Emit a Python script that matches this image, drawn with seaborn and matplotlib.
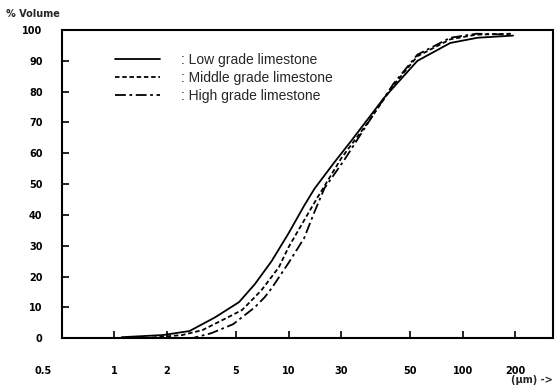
import numpy as np
import pandas as pd
import matplotlib
matplotlib.use("Agg")
import matplotlib.pyplot as plt
import matplotlib.transforms as mtransforms
import seaborn as sns

# --- data (particle size in um, cumulative % volume) ---
low_size = [1.1, 1.9, 2.7, 3.8, 5.2, 6.4, 8.0, 10, 12.3, 14.1, 18.3, 22.9, 35.4, 55, 85, 122, 195]
low_vol = [0.3, 1.0, 2.3, 6.8, 11.7, 17.5, 25, 34, 43, 48.5, 57, 64, 78, 90, 95.8, 97.5, 98.2]

mid_size = [1.5, 2.45, 3.2, 4.5, 5.4, 6.4, 7.0, 8.8, 10, 13, 14.8, 20.1, 28.6, 40, 55, 85, 120, 190]
mid_vol = [0, 1.0, 2.6, 6.8, 9.1, 13.3, 15.6, 23, 29.5, 40.6, 46, 58.4, 70, 82, 91.5, 97, 98.5, 98.8]

high_size = [2.0, 2.8, 3.6, 4.8, 6.4, 7.3, 8.0, 10, 11.4, 12.3, 14.1, 16.1, 20.9, 29.8, 40, 55, 85, 120, 190]
high_vol = [0, 0, 1.6, 4.5, 10, 13.3, 16.2, 24.4, 29.5, 32.5, 41, 48.7, 57.8, 71.4, 82.5, 92, 97.5, 98.8, 98.5]

series_names = [": Low grade limestone", ": Middle grade limestone", ": High grade limestone"]

x_ticks = [0.5, 1, 2, 5, 10, 20, 50, 100, 200]
x_tick_labels = ["0.5", "1", "2", "5", "10", "30", "50", "100", "200"]
y_ticks = [0, 10, 20, 30, 40, 50, 60, 70, 80, 90, 100]

df = pd.concat([
    pd.DataFrame({"size": low_size, "vol": low_vol, "grade": series_names[0]}),
    pd.DataFrame({"size": mid_size, "vol": mid_vol, "grade": series_names[1]}),
    pd.DataFrame({"size": high_size, "vol": high_vol, "grade": series_names[2]}),
])

sns.set_theme(style="white")
plt.rcParams["font.family"] = ["DejaVu Sans"]

fig = plt.figure(figsize=(5.59, 3.90), dpi=100)
ax = fig.add_axes([0.111, 0.133, 0.878, 0.790])

sns.lineplot(
    data=df, x="size", y="vol", hue="grade", style="grade",
    hue_order=series_names, style_order=series_names,
    palette=["black"] * 3,
    dashes={series_names[0]: "", series_names[1]: (2.5, 1.5), series_names[2]: (6, 2, 1.5, 2)},
    estimator=None, sort=True, linewidth=1.3, ax=ax,
)

ax.set_xscale("log")
ax.set_xlim(0.5, 330)
ax.set_ylim(0, 100)
ax.set_xticks(x_ticks)
ax.set_xticklabels(x_tick_labels)
ax.xaxis.set_minor_locator(matplotlib.ticker.NullLocator())
ax.set_yticks(y_ticks)
ax.set_yticklabels([str(v) for v in y_ticks])
ax.tick_params(axis="both", direction="in", length=5, width=1.2, colors="black",
               labelsize=7, bottom=True, left=True, top=False, right=False)
ax.tick_params(axis="x", pad=20)
ax.tick_params(axis="y", pad=14)
for lab in ax.get_xticklabels() + ax.get_yticklabels():
    lab.set_fontweight("bold")
# the "0.5" label sits left of the frame in the reference
first = ax.get_xticklabels()[0]
first.set_transform(first.get_transform() + mtransforms.ScaledTranslation(-0.19, 0, fig.dpi_scale_trans))
ax.get_xticklines()[0].set_visible(False)
for sp in ax.spines.values():
    sp.set_color("black")
    sp.set_linewidth(1.5)
ax.set_xlabel("")
ax.set_ylabel("")

leg = ax.legend(
    loc="upper left", bbox_to_anchor=(0.093, 0.948), frameon=False,
    handlelength=3.3, handletextpad=1.5, labelspacing=0.3, borderpad=0,
    prop={"family": "Liberation Sans", "size": 10},
)
for line in leg.get_lines():
    line.set_linewidth(1.3)

fig.text(0.01, 0.965, "% Volume", fontsize=7, fontweight="bold", ha="left", va="center")
fig.text(0.915, 0.025, "(\u00b5m) ->", fontsize=7, fontweight="bold", ha="left", va="center")

fig.savefig("out.png", dpi=100)
